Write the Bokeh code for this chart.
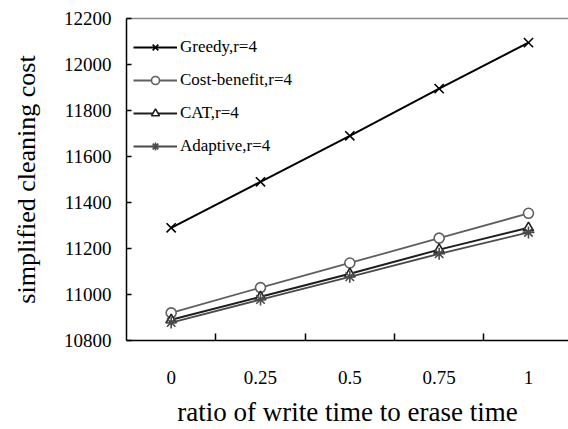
from bokeh.plotting import figure
from bokeh.models import Range1d, FixedTicker, NumeralTickFormatter, Legend, LegendItem, ColumnDataSource, LinearAxis
from bokeh.embed import file_html
from bokeh.resources import INLINE

# ---- data ----
ratios = [0, 0.25, 0.5, 0.75, 1]
greedy = [11290, 11490, 11690, 11895, 12095]
cost_benefit = [10920, 11030, 11137, 11245, 11353]
cat = [10890, 10990, 11090, 11195, 11290]
adaptive = [10878, 10978, 11077, 11177, 11270]
y_ticks = [10800, 11000, 11200, 11400, 11600, 11800, 12000, 12200]
series_names = ["Greedy,r=4", "Cost-benefit,r=4", "CAT,r=4", "Adaptive,r=4"]

FONT = "Liberation Serif"

p = figure(width=568, height=429, output_backend="svg", toolbar_location=None,
           x_range=Range1d(-0.125, 1.112), y_range=Range1d(10800, 12200),
           min_border_left=126, min_border_right=0, min_border_top=18, min_border_bottom=88)
p.grid.visible = False
p.outline_line_color = None
p.background_fill_color = "white"
p.border_fill_color = "white"

xa = p.below[0]
ya = p.left[0]

# gray top border of the plot box
top = LinearAxis(ticker=FixedTicker(ticks=[], minor_ticks=[]),
                 axis_line_color="#8a8a8a", axis_line_width=1.5,
                 major_tick_in=0, major_tick_out=0, minor_tick_in=0, minor_tick_out=0,
                 major_label_standoff=0)
p.add_layout(top, "above")

src = ColumnDataSource(dict(x=ratios, g=greedy, c=cost_benefit, t=cat, a=adaptive))

styles = [
    ("g", "#000000", 2.0, "x", 13, "#000000"),
    ("c", "#5f5f5f", 1.8, "circle", 10, "white"),
    ("t", "#1e1e1e", 2.0, "triangle", 10, "white"),
    ("a", "#4a4a4a", 1.8, "asterisk", 12, "#4a4a4a"),
]
items = []
for name, (col, color, lw, marker, size, fill) in zip(series_names, styles):
    r1 = p.line("x", col, source=src, line_color=color, line_width=lw)
    r2 = p.scatter("x", col, source=src, marker=marker, size=size,
                   line_color=color, fill_color=fill, line_width=1.6)
    items.append(LegendItem(label=name, renderers=[r1, r2]))

legend = Legend(items=items, location=(7, 184), orientation="vertical",
                border_line_color=None, background_fill_alpha=0,
                padding=0, margin=0, spacing=13,
                glyph_width=44, glyph_height=20, label_height=20,
                label_standoff=3, label_text_font=FONT,
                label_text_font_size="17px", label_text_color="black")
p.add_layout(legend)

# x axis: labels at points, tick marks between points
mids = [(a + b) / 2 for a, b in zip(ratios[:-1], ratios[1:])]
xa.ticker = FixedTicker(ticks=ratios, minor_ticks=mids)
xa.formatter = NumeralTickFormatter(format="0.[00]")
xa.major_tick_in = 0
xa.major_tick_out = 0
xa.minor_tick_in = 7
xa.minor_tick_out = 0
xa.minor_tick_line_color = "black"
xa.minor_tick_line_width = 1.5
xa.axis_line_color = "black"
xa.axis_line_width = 1.5
xa.major_label_text_font = FONT
xa.major_label_text_font_size = "19px"
xa.major_label_text_color = "black"
xa.major_label_standoff = 30
xa.axis_label = "ratio of write time to erase time"
xa.axis_label_text_font = FONT
xa.axis_label_text_font_size = "27px"
xa.axis_label_text_font_style = "normal"
xa.axis_label_text_color = "black"
xa.axis_label_standoff = 10

ya.ticker = FixedTicker(ticks=y_ticks, minor_ticks=[])
ya.major_tick_in = 5
ya.major_tick_out = 0
ya.major_tick_line_color = "black"
ya.major_tick_line_width = 1.5
ya.axis_line_color = "black"
ya.axis_line_width = 1.5
ya.major_label_text_font = FONT
ya.major_label_text_font_size = "19px"
ya.major_label_text_color = "black"
ya.major_label_standoff = 15
ya.axis_label = "simplified cleaning cost"
ya.axis_label_text_font = FONT
ya.axis_label_text_font_size = "26px"
ya.axis_label_text_font_style = "normal"
ya.axis_label_text_color = "black"
ya.axis_label_standoff = 20

open("out.html", "w").write(file_html(p, INLINE))
